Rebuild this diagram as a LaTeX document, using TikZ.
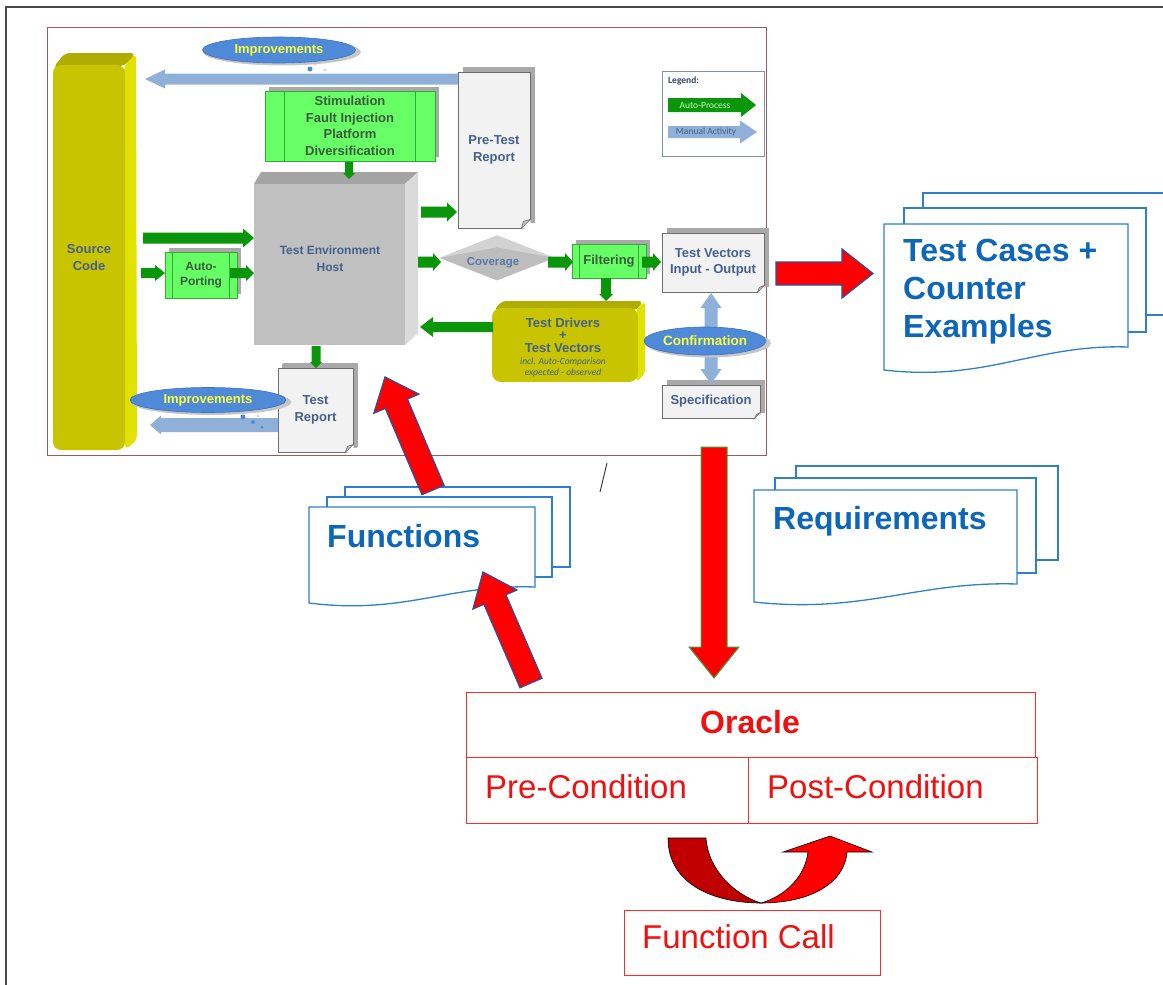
\documentclass[tikz,border=0pt]{standalone}
\usepackage{fontspec}
\setmainfont{Liberation Sans}
\newfontfamily\notefont{Carlito}
\usetikzlibrary{arrows.meta,calc,shapes.geometric,shapes.symbols,shadows}

\definecolor{framegray}{HTML}{4A4A4A}
\definecolor{framered}{HTML}{9C5A5A}
\definecolor{olive}{HTML}{C8C400}
\definecolor{oliveside}{HTML}{E2E200}
\definecolor{olivetop}{HTML}{B0AC00}
\definecolor{hostface}{HTML}{C0C0C0}
\definecolor{hostside}{HTML}{DADADA}
\definecolor{hosttop}{HTML}{A4A4A4}
\definecolor{boxgreen}{HTML}{66FF66}
\definecolor{boxedge}{HTML}{33AA33}
\definecolor{autogreen}{HTML}{0A960A}
\definecolor{manualblue}{HTML}{8FB0D9}
\definecolor{cloudblue}{HTML}{4F8AD8}
\definecolor{cloudedge}{HTML}{3C72C0}
\definecolor{cloudtext}{HTML}{FFFF3A}
\definecolor{labelblue}{HTML}{44608C}
\definecolor{covertext}{HTML}{5A78A8}
\definecolor{darkgreentext}{HTML}{3D5A3D}
\definecolor{docfill}{HTML}{F2F2F2}
\definecolor{docedge}{HTML}{6E6E6E}
\definecolor{docshadow}{HTML}{A9A9A9}
\definecolor{coverage}{HTML}{BDBDBD}
\definecolor{coverlight}{HTML}{D2D2D2}
\definecolor{legendedge}{HTML}{8090B0}
\definecolor{stackblue}{HTML}{2E80CC}
\definecolor{stacktext}{HTML}{0E66B6}
\definecolor{oracleline}{HTML}{FF2A2A}
\definecolor{oracletext}{HTML}{EE1111}
\definecolor{arrowred}{HTML}{FF0000}
\definecolor{arrowedge}{HTML}{2A50A0}
\definecolor{arrowgreenedge}{HTML}{3FA03F}
\definecolor{darkred}{HTML}{C00000}

\tikzset{
  panellabel/.style={text=labelblue, font=\bfseries\fontsize{13}{16.5}\selectfont, align=center},
  boxlabel/.style={text=darkgreentext, font=\bfseries\fontsize{13}{16.7}\selectfont, align=center},
  greenbox/.style={draw=boxedge, fill=boxgreen, line width=0.8pt, inner sep=0pt,
    drop shadow={fill=docshadow, opacity=1, shadow xshift=4pt, shadow yshift=4pt}},
  docpage/.style={draw=docedge, fill=docfill, line width=0.8pt, inner sep=0pt,
    drop shadow={fill=docshadow, opacity=1, shadow xshift=5pt, shadow yshift=5pt}},
  impcloud/.style={ellipse, fill=cloudblue, draw=cloudedge, line width=0.6pt, inner sep=0pt, text=cloudtext,
    font=\bfseries\fontsize{13}{15}\selectfont,
    drop shadow={fill=gray!45, opacity=1, shadow xshift=3pt, shadow yshift=-2pt, shadow scale=1.03}},
  autoflow/.style={fill=autogreen, draw=none},
  manualflow/.style={fill=manualblue, draw=none},
  redflow/.style={fill=arrowred, draw=arrowedge, line width=1.2pt, line join=miter},
  redflowgreen/.style={fill=arrowred, draw=arrowgreenedge, line width=1pt, line join=miter},
  stackpage/.style={draw=stackblue, fill=white, line width=1.3pt},
  stacklabel/.style={text=stacktext, font=\bfseries\fontsize{32}{38}\selectfont, inner sep=0pt},
  oraclebox/.style={draw=oracleline, line width=1.3pt, inner sep=0pt},
  oraclelabel/.style={text=oracletext, font=\fontsize{33}{38}\selectfont, inner sep=0pt},
  dot/.style={fill=cloudblue}
}

% block arrow: [style] {from} {to} {half body width} {half head width} {head length}
\newcommand\blockarrow[6][]{%
  \coordinate (bahead) at ($(#3)!#6!(#2)$);
  \filldraw[#1] ($(#2)!#4!90:(#3)$) -- ($(bahead)!#4!90:(#3)$) -- ($(bahead)!#5!90:(#3)$)
    -- (#3) -- ($(bahead)!#5!-90:(#3)$) -- ($(bahead)!#4!-90:(#3)$) -- ($(#2)!#4!-90:(#3)$) -- cycle;}

% dog-eared lower right corner of a document node
\newcommand\foldcorner[2]{%
  \fill[white] ([xshift=-#2]#1.south east) -- ([xshift=1pt,yshift=-1pt]#1.south east) -- ([yshift=#2]#1.south east) -- cycle;
  \filldraw[fill=docshadow!70, draw=docedge, line width=0.6pt] ([xshift=-#2]#1.south east) -- ([yshift=#2]#1.south east)
    -- ([xshift=-#2+2pt,yshift=#2-2pt]#1.south east) -- cycle;}

% sheet with a wavy lower edge: x1, x2, top, right bottom, left bottom
\newcommand\wavypage[5]{%
  \pgfmathsetmacro\wpca{#2-0.38*(#2-#1)}%
  \pgfmathsetmacro\wpcb{#1+0.42*(#2-#1)}%
  \filldraw[stackpage] (#1,#3) -- (#2,#3) -- (#2,#4) .. controls (\wpca,#4-3) and (\wpcb,#5+12) .. (#1,#5) -- cycle;}

\begin{document}
\begin{tikzpicture}[x=1pt,y=-1pt]
\clip (0,0) rectangle (1163,985);
\fill[white] (0,0) rectangle (1163,985);
\draw[framegray, line width=2pt] (6,985) -- (6,7) -- (1163,7);

% ---------------- test process panel ----------------
\node[draw=framered, line width=0.9pt, fill=white, minimum width=719pt, minimum height=428pt,
      inner sep=0pt, anchor=north west] (panel) at (47,27) {};

% source code column
\fill[oliveside, rounded corners=5pt] (124,66) -- (136,53) -- (137,440) -- (125,450) -- cycle;
\fill[olivetop, rounded corners=5pt] (53,68) -- (65,53) -- (136,53) -- (124,66) -- cycle;
\node[fill=olive, rounded corners=8pt, minimum width=72pt, minimum height=385pt, inner sep=0pt, panellabel]
  (src) at (89,257.5) {Source\\Code};

% test environment host
\fill[hosttop] (254,184) -- (261,172) -- (418,172) -- (405,184) -- cycle;
\fill[hostside] (405,184) -- (418,172) -- (418,333) -- (405,345) -- cycle;
\node[fill=hostface, minimum width=151pt, minimum height=161pt, inner sep=0pt] (host) at (329.5,264.5) {};
\node[panellabel, font=\bfseries\fontsize{12}{17}\selectfont] (hostlabel) at (330,259) {Test Environment\\Host};

% green processing boxes
\node[greenbox, minimum width=170pt, minimum height=70pt, boxlabel] (stim) at (350,126)
  {Stimulation\\Fault Injection\\Platform\\Diversification};
\draw[boxedge, line width=0.8pt] ([xshift=20pt]stim.north west) -- ([xshift=20pt]stim.south west)
  ([xshift=-20pt]stim.north east) -- ([xshift=-20pt]stim.south east);
\node[greenbox, minimum width=72pt, minimum height=46pt, boxlabel, font=\bfseries\fontsize{12}{15}\selectfont]
  (port) at (201,275) {Auto-\\Porting};
\draw[boxedge, line width=0.8pt] ([xshift=8pt]port.north west) -- ([xshift=8pt]port.south west)
  ([xshift=-8pt]port.north east) -- ([xshift=-8pt]port.south east);
\node[greenbox, minimum width=74pt, minimum height=34pt, boxlabel] (filt) at (609,261) {Filtering};
\draw[boxedge, line width=0.8pt] ([xshift=8pt]filt.north west) -- ([xshift=8pt]filt.south west)
  ([xshift=-8pt]filt.north east) -- ([xshift=-8pt]filt.south east);

% documents
\node[docpage, minimum width=72pt, minimum height=156pt, panellabel] (pretest) at (494,150) {Pre-Test\\Report};
\foldcorner{pretest}{9pt}
\node[docpage, minimum width=102pt, minimum height=59pt, panellabel] (tv) at (713,262.5) {Test Vectors\\Input - Output};
\foldcorner{tv}{7pt}
\node[docpage, minimum width=98pt, minimum height=33pt, panellabel] (spec) at (711,401.5) {Specification};
\foldcorner{spec}{6pt}
\node[docpage, minimum width=75pt, minimum height=84pt, panellabel,
      drop shadow={fill=docshadow, opacity=1, shadow xshift=4pt, shadow yshift=4pt}] (tr) at (315.5,410) {Test\\Report};
\foldcorner{tr}{8pt}

% coverage diamond
\node[diamond, fill=coverage, minimum width=115pt, minimum height=45pt, inner sep=0pt, aspect=2.6,
      text=covertext, font=\bfseries\fontsize{11.5}{14}\selectfont] (cov) at (497,258) {};
\fill[coverlight] (cov.west) -- (cov.north) -- (cov.east) -- ([yshift=-12pt]cov.north) -- cycle;
\node[text=covertext, font=\bfseries\fontsize{11.5}{14}\selectfont] (covlabel) at (493,263) {Coverage};

% test drivers block
\fill[olivetop, rounded corners=4pt] (494,310) -- (502,301) -- (643,301) -- (637,310) -- cycle;
\fill[oliveside, rounded corners=4pt] (636,310) -- (645,301) -- (645,374) -- (636,382) -- cycle;
\node[fill=olive, rounded corners=9pt, minimum width=146pt, minimum height=74pt, inner sep=0pt] (td) at (565,345) {};
\node[panellabel, font=\bfseries\fontsize{13}{12.5}\selectfont] (tdlabel) at (563,335) {Test Drivers\\+\\Test Vectors};
\node[text=labelblue, font=\notefont\itshape\fontsize{9.5}{11}\selectfont, align=center] (tdnote) at (563,367.5)
  {incl. Auto-Comparison\\expected - observed};

% legend
\node[draw=legendedge, fill=white, line width=0.7pt, minimum width=102pt, minimum height=85pt,
      inner sep=0pt, anchor=north west] (legend) at (662,71) {};
\node[anchor=west, inner sep=0pt, text=labelblue!70!black, font=\notefont\bfseries\fontsize{9.5}{11}\selectfont]
  (legendtitle) at (668,81) {Legend:};
\coordinate (lgA) at (668,105); \coordinate (lgB) at (756,105);
\coordinate (lmA) at (668,132); \coordinate (lmB) at (757,132);
\blockarrow[autoflow]{lgA}{lgB}{7pt}{12pt}{15pt}
\blockarrow[manualflow]{lmA}{lmB}{6pt}{11.5pt}{17pt}
\node[text=green!25!white, font=\notefont\fontsize{9.5}{11}\selectfont] (legendauto) at (705,105) {Auto-Process};
\node[text=labelblue, font=\notefont\fontsize{9.5}{11}\selectfont] (legendmanual) at (706,132) {Manual Activity};

% automatic process flow
\coordinate (srcOutA) at (143,238);  \coordinate (hostInA) at (254,238);
\coordinate (srcOutB) at (141,273);  \coordinate (portIn) at (165,273);
\coordinate (portOut) at (230,273);  \coordinate (hostInB) at (254,273);
\coordinate (hostOutR) at (421,212); \coordinate (pretestIn) at (457,212);
\coordinate (hostOutC) at (418,262); \coordinate (covIn) at (441,262);
\coordinate (covOut) at (548,262);   \coordinate (filtIn) at (573,262);
\coordinate (filtOut) at (642,262);  \coordinate (tvIn) at (661,262);
\coordinate (filtDown) at (606,278); \coordinate (tdIn) at (606,301);
\coordinate (tdOut) at (493,327);    \coordinate (hostInD) at (420,327);
\coordinate (stimOut) at (349,162);  \coordinate (hostInT) at (349,179);
\coordinate (hostOutB) at (316,346); \coordinate (trIn) at (316,368);
\blockarrow[autoflow]{srcOutA}{hostInA}{5.5pt}{9.5pt}{11pt}
\blockarrow[autoflow]{srcOutB}{portIn}{5pt}{8pt}{10pt}
\blockarrow[autoflow]{portOut}{hostInB}{5pt}{8pt}{8pt}
\blockarrow[autoflow]{hostOutR}{pretestIn}{5.5pt}{9.5pt}{10pt}
\blockarrow[autoflow]{hostOutC}{covIn}{5.5pt}{9pt}{8pt}
\blockarrow[autoflow]{covOut}{filtIn}{5.5pt}{9pt}{8pt}
\blockarrow[autoflow]{filtOut}{tvIn}{5.5pt}{9pt}{8pt}
\blockarrow[autoflow]{filtDown}{tdIn}{5pt}{7pt}{7pt}
\blockarrow[autoflow]{tdOut}{hostInD}{5pt}{10pt}{13pt}
\blockarrow[autoflow]{stimOut}{hostInT}{4pt}{6pt}{6pt}
\blockarrow[autoflow]{hostOutB}{trIn}{4.5pt}{6pt}{6pt}

% manual activities
\coordinate (mtA) at (458,79); \coordinate (mtB) at (145,79);
\blockarrow[manualflow]{mtA}{mtB}{5.5pt}{9.5pt}{20pt}
\coordinate (mbA) at (278,425); \coordinate (mbB) at (150,425);
\blockarrow[manualflow]{mbA}{mbB}{7pt}{9.5pt}{11pt}
\coordinate (confMid) at (711,340); \coordinate (confTop) at (711,293); \coordinate (confBot) at (711,384);
\blockarrow[manualflow]{confMid}{confTop}{6.5pt}{10.5pt}{15pt}
\blockarrow[manualflow]{confMid}{confBot}{6.5pt}{10.5pt}{15pt}

% clouds
\node[impcloud, minimum width=153pt, minimum height=26pt] (imptop) at (279,50) {Improvements};
\fill[dot] (310,69) circle (2.5pt);
\fill[gray!50] (315,64) circle (1.2pt) (325,70) circle (1.2pt);
\node[impcloud, minimum width=156pt, minimum height=25pt] (impbot) at (208,400) {Improvements};
\fill[dot] (243,417) circle (2.5pt) (253,422) circle (2pt) (262,427) circle (1.5pt);
\fill[gray!50] (258,416) circle (1.2pt);
\node[impcloud, minimum width=122pt, minimum height=28pt, font=\bfseries\fontsize{13.5}{15}\selectfont] (conf) at (705,341) {Confirmation};

% ---------------- surrounding artefacts ----------------
% test cases stack
\filldraw[stackpage] (923,193) rectangle (1180,315);
\filldraw[stackpage] (904,208) rectangle (1146,332);
\wavypage{884}{1128}{224}{347}{370}
\node[stacklabel, anchor=north west, align=left] (cases) at (903,239) {Test Cases +\\Counter\\Examples};

% functions stack
\filldraw[stackpage] (345,487) rectangle (570,567);
\filldraw[stackpage] (327,497) rectangle (552,577);
\wavypage{309}{535}{507}{587}{603}
\node[stacklabel, anchor=base west] (functions) at (327,547) {Functions};

% requirements stack
\filldraw[stackpage] (796,466) rectangle (1058,560);
\filldraw[stackpage] (775,478) rectangle (1036,573);
\wavypage{754}{1017}{490}{584}{602}
\node[stacklabel, anchor=base west] (requirements) at (773,529) {Requirements};

% stray stroke
\draw[black!75, line width=1pt] (607,463) -- (600,492);

% oracle
\node[oraclebox, minimum width=569pt, minimum height=65pt, anchor=north west] (oracle) at (466,692) {};
\node[oraclelabel, font=\bfseries\fontsize{32}{38}\selectfont, anchor=base] (oracletitle) at (750,733) {Oracle};
\node[oraclebox, minimum width=282pt, minimum height=66pt, anchor=north west] (pre) at (466,757) {};
\node[oraclebox, minimum width=289pt, minimum height=66pt, anchor=north west] (post) at (748,757) {};
\node[oraclelabel, anchor=base west] (pretext) at (485,798) {Pre-Condition};
\node[oraclelabel, anchor=base west] (posttext) at (767,798) {Post-Condition};
\node[oraclebox, minimum width=256pt, minimum height=65pt, anchor=north west] (call) at (624,910) {};
\node[oraclelabel, anchor=base west] (calltext) at (642,948) {Function Call};

% call cycle arrow
\filldraw[fill=darkred, draw=black, line width=0.6pt]
  (668,838) .. controls (668,885) and (715,903) .. (761,903)
  .. controls (735,895) and (708,870) .. (706,838) -- cycle;
\filldraw[fill=arrowred, draw=black, line width=0.6pt]
  (761,903) .. controls (812,903) and (845,882) .. (847,852) -- (872,852) -- (830,836) -- (783,852) -- (808,852)
  .. controls (805,877) and (785,896) .. (761,903) -- cycle;

% red flow arrows
\coordinate (tvOut) at (776,273.5);    \coordinate (casesIn) at (873,273.5);
\coordinate (funcOut) at (433,490);    \coordinate (hostInF) at (385,377);
\coordinate (oracleOutF) at (531,683); \coordinate (funcIn) at (483,572);
\coordinate (panelOut) at (714,447);   \coordinate (oracleIn) at (714,678);
\blockarrow[redflow]{tvOut}{casesIn}{11.5pt}{24.5pt}{31pt}
\blockarrow[redflow]{funcOut}{hostInF}{12pt}{24.5pt}{29pt}
\blockarrow[redflow]{oracleOutF}{funcIn}{12pt}{24pt}{30pt}
\blockarrow[redflowgreen]{panelOut}{oracleIn}{13pt}{25pt}{31pt}
\end{tikzpicture}
\end{document}
